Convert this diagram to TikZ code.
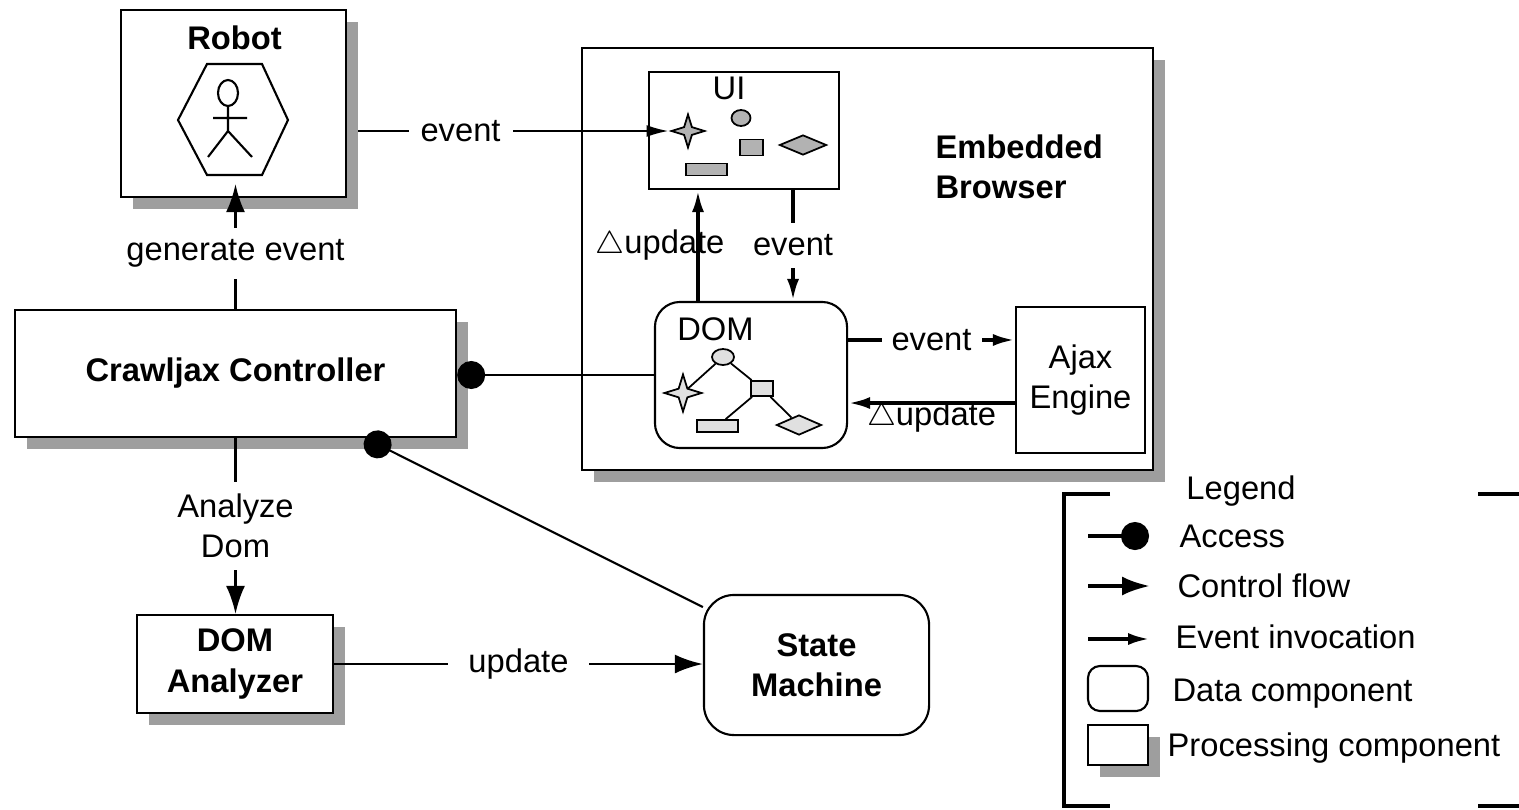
\documentclass[tikz,border=0pt]{standalone}
\usepackage{fontspec}
\setmainfont{Liberation Sans}
\usetikzlibrary{arrows.meta,shapes.geometric,shadows}
\tikzstyle{block} = [draw, rectangle, fill=white, line width=0.6pt, drop shadow={shadow xshift=0.12cm, shadow yshift=-0.12cm, fill=black!38, opacity=1}, align=center, font=\bfseries]
\tikzstyle{plain} = [draw, rectangle, fill=white, line width=0.6pt, align=center]
\tikzstyle{data} = [draw, rectangle, rounded corners=0.25cm, fill=white, line width=0.6pt, align=center]
\tikzstyle{lbl} = [fill=white, inner sep=0.12cm, align=center]
\tikzstyle{icon} = [draw, line width=0.5pt, inner sep=0pt]
\tikzstyle{ctrlflow} = [line width=0.8pt, -{Latex[length=0.28cm,width=0.19cm]}]
\tikzstyle{evtthick} = [line width=1.1pt, -{Latex[length=0.22cm,width=0.12cm]}]
\tikzstyle{evtthin} = [line width=0.6pt, -{Latex[length=0.22cm,width=0.12cm]}]
\tikzstyle{access} = [line width=0.6pt, {Circle[length=0.28cm]}-]
\newcommand{\dupd}{$\triangle$update}
\begin{document}
\begin{tikzpicture}[x=0.01cm, y=-0.01cm, execute at begin picture={\fontsize{9.3}{11.5}\selectfont}]
	\useasboundingbox (0,0) rectangle (1519,809);
	% robot
	\node [block, minimum width=2.25cm, minimum height=1.87cm] (robot) at (233.5,103.5) {};
	\node [font=\bfseries] (robottitle) at (234.5,37.5) {Robot};
	\draw [line width=0.6pt] (207,64) -- (262,64) -- (288,120) -- (262,175) -- (207,175) -- (178,120) -- cycle;
	\draw [line width=0.6pt] (228,93) ellipse [x radius=0.1cm, y radius=0.13cm];
	\draw [line width=0.6pt] (228,106) -- (228,131) -- (208,157) (228,131) -- (252,157) (213,118) -- (247,118);
	% controller
	\node [block, minimum width=4.41cm, minimum height=1.27cm] (ctrl) at (235.5,373.5) {Crawljax Controller};
	% browser
	\node [block, minimum width=5.71cm, minimum height=4.22cm] (browser) at (867.5,259) {};
	\node [font=\bfseries, align=left, anchor=west] (browsertitle) at (924,167) {Embedded\\Browser};
	% UI
	\node [plain, minimum width=1.90cm, minimum height=1.17cm] (ui) at (744,130.5) {};
	\node (uititle) at (729,88.5) {UI};
	\node [icon, star, star points=4, star point ratio=3, minimum size=0.33cm, fill=black!30] (uistar) at (688,131) {};
	\node [icon, ellipse, minimum width=0.19cm, minimum height=0.16cm, fill=black!30] (uioval) at (741,118) {};
	\node [icon, rectangle, minimum width=0.23cm, minimum height=0.16cm, fill=black!30] (uisq) at (751.5,147.5) {};
	\node [icon, diamond, aspect=2.3, minimum width=0.47cm, minimum height=0.2cm, fill=black!30] (uidia) at (803,145) {};
	\node [icon, rectangle, minimum width=0.41cm, minimum height=0.12cm, fill=black!30] (uibar) at (706.5,169.5) {};
	% DOM
	\node [data, minimum width=1.92cm, minimum height=1.46cm] (dom) at (751,375) {};
	\node (domtitle) at (715.5,329) {DOM};
	\node [icon, ellipse, minimum width=0.22cm, minimum height=0.16cm, fill=black!12] (domoval) at (723,357) {};
	\node [icon, star, star points=4, star point ratio=3, minimum size=0.37cm, fill=black!12] (domstar) at (683,393) {};
	\node [icon, rectangle, minimum width=0.22cm, minimum height=0.15cm, fill=black!12] (domsq) at (762,388.5) {};
	\node [icon, rectangle, minimum width=0.41cm, minimum height=0.12cm, fill=black!12] (dombar) at (717.5,426) {};
	\node [icon, diamond, aspect=2.3, minimum width=0.45cm, minimum height=0.2cm, fill=black!12] (domdia) at (799,425) {};
	\draw [line width=0.5pt] (domoval) -- (domstar) (domoval) -- (domsq) (domsq) -- (dombar) (domsq) -- (domdia);
	% ajax engine
	\node [plain, minimum width=1.29cm, minimum height=1.46cm] (ajax) at (1080.5,380) {Ajax\\Engine};
	% lower part
	\node [block, minimum width=1.96cm, minimum height=0.98cm] (analyzer) at (235,664) {DOM\\Analyzer};
	\node [data, rounded corners=0.3cm, minimum width=2.25cm, minimum height=1.40cm, font=\bfseries] (sm) at (816.5,665) {State\\Machine};

	\draw [ctrlflow, shorten >=-0.14cm] (ctrl.north) -- node[lbl]{generate event} (ctrl.north |- robot.south);
	\draw [evtthin] ([xshift=0.11cm]robot.east |- uistar.west) -- node[lbl, pos=0.33]{event} (uistar.west);
	\draw [evtthick] ([xshift=-0.46cm]ui.south |- dom.north) -- node[midway, xshift=-0.38cm]{\dupd} ([xshift=-0.46cm]ui.south);
	\draw [evtthick] ([xshift=0.49cm]ui.south) -- node[lbl]{event} ([xshift=0.49cm]ui.south |- dom.north);
	\draw [evtthick] ([yshift=0.35cm]dom.east) -- node[lbl, inner sep=0.1cm]{event} ([yshift=0.35cm]dom.east -| ajax.west);
	\draw [evtthick] ([yshift=-0.28cm]dom.east -| ajax.west) -- node[midway, yshift=-0.14cm]{\dupd} ([yshift=-0.28cm]dom.east);
	\draw [access] (ctrl.east |- dom.west) -- (dom.west);
	\draw [access] ([xshift=1.295cm]ctrl.south) -- (sm.153);
	\draw [ctrlflow] (ctrl.south) -- node[lbl]{Analyze\\Dom} (ctrl.south |- analyzer.north);
	\draw [ctrlflow] (analyzer.east) -- node[lbl, inner xsep=0.2cm]{update} (analyzer.east -| sm.west);

	% legend
	\node (legendtitle) at (1241,491) {Legend};
	\draw [line width=1.1pt] (1110,494) -- (1064,494) -- (1064,806) -- (1110,806);
	\draw [line width=1.1pt] (1478,494) -- (1519,494) (1478,806) -- (1519,806);
	\draw [access, line width=1.1pt] (1149,536) -- (1088,536);
	\node [anchor=west] (acclbl) at (1168,536.5) {Access};
	\draw [ctrlflow, line width=1.1pt] (1088,586) -- (1150,586);
	\node [anchor=west] (ctrllbl) at (1166,585.5) {Control flow};
	\draw [evtthick] (1088,639) -- (1150,639);
	\node [anchor=west] (evtlbl) at (1164,637) {Event invocation};
	\node [data, rounded corners=0.12cm, minimum width=0.6cm, minimum height=0.45cm] (datasample) at (1118,688.5) {};
	\node [anchor=west] (datalbl) at (1161,694) {Data component};
	\node [block, minimum width=0.6cm, minimum height=0.4cm] (procsample) at (1118,745) {};
	\node [anchor=west] (proclbl) at (1156,748) {Processing component};
\end{tikzpicture}
\end{document}
